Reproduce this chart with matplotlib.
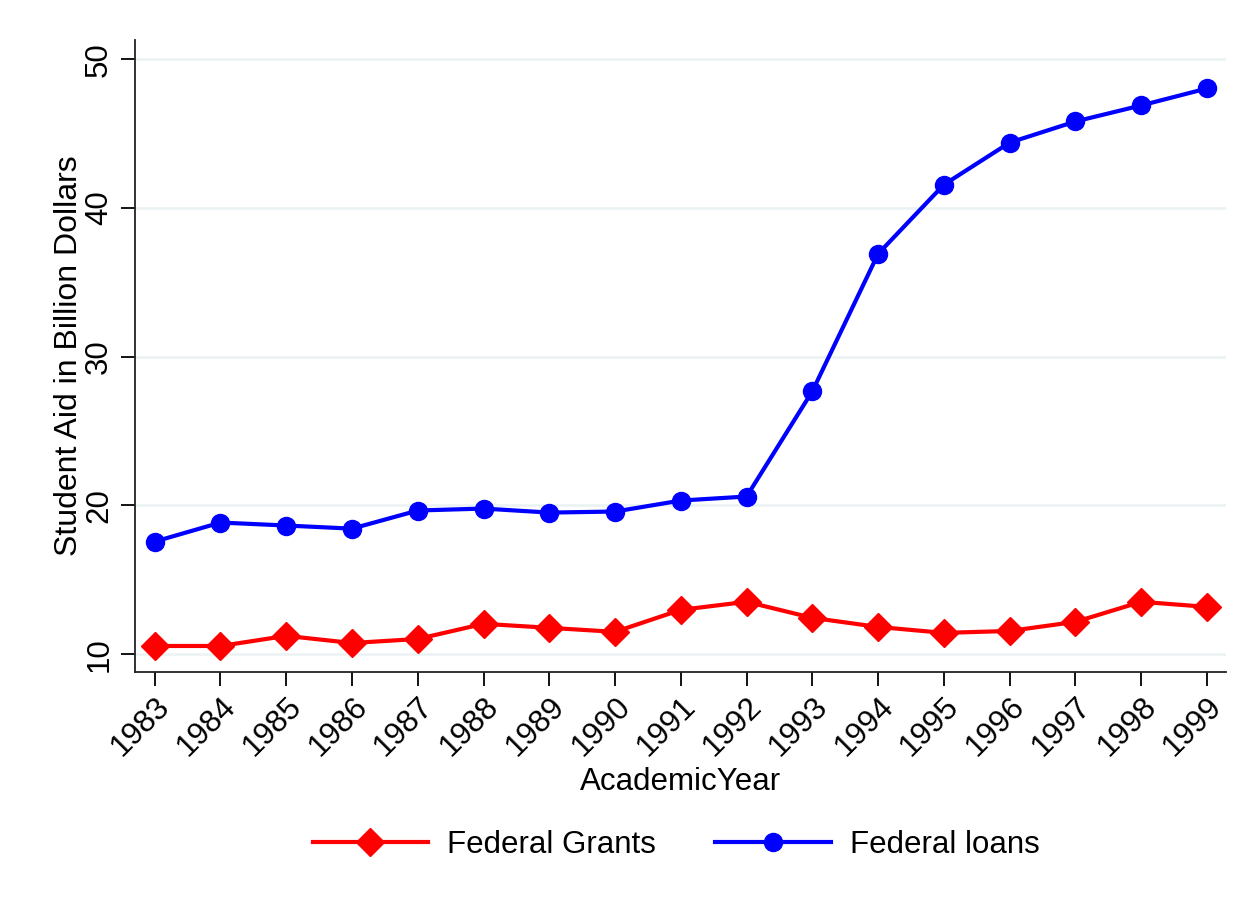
import matplotlib
matplotlib.use("Agg")
import matplotlib.pyplot as plt

years = list(range(1983, 2000))
grants = [10.55, 10.55, 11.23, 10.75, 11.02, 12.04, 11.77, 11.50, 12.98, 13.52,
          12.44, 11.83, 11.43, 11.56, 12.17, 13.52, 13.18]
loans = [17.57, 18.85, 18.65, 18.44, 19.66, 19.79, 19.52, 19.59, 20.33, 20.60,
         27.68, 36.92, 41.57, 44.40, 45.82, 46.90, 48.04]
yticks = [10, 20, 30, 40, 50]

plt.rcParams['font.family'] = ['Liberation Sans', 'DejaVu Sans']

fig = plt.figure(figsize=(12.54, 9.08), dpi=100)
ax = fig.add_axes([135/1254, 1 - 672/908, (1226-135)/1254, (672-40)/908])

for v in yticks:
    ax.axhline(v, color='#eaf2f3', lw=1.8, zorder=0)

ax.plot(years, grants, color='#ff0000', lw=3.0, marker='D', markersize=14,
        label='Federal Grants', zorder=3)
ax.plot(years, loans, color='#0000ff', lw=3.0, marker='o', markersize=13,
        label='Federal loans', zorder=3)

ax.set_xlim(1982.7, 1999.29)
ax.set_ylim(8.8, 51.3)
ax.set_xticks(years)
ax.set_xticklabels([str(y) for y in years], rotation=45, ha='right',
                   rotation_mode='anchor', fontsize=22.5)
ax.set_yticks(yticks)
ax.set_yticklabels([str(v) for v in yticks], rotation=90, va='center', fontsize=22.5)
ax.tick_params(axis='y', length=10, width=1.3, pad=5)
ax.tick_params(axis='x', length=10, width=1.3, pad=4)
for s in ['top', 'right']:
    ax.spines[s].set_visible(False)
for s in ['left', 'bottom']:
    ax.spines[s].set_linewidth(1.3)
    ax.spines[s].set_color('#222222')

ax.set_xlabel('AcademicYear', fontsize=22.5, labelpad=4)
ax.set_ylabel('Student Aid in Billion Dollars', fontsize=23, labelpad=0)

fig.legend(loc='center', bbox_to_anchor=(0.539, 1 - 845/908), ncol=2,
           frameon=False, fontsize=22.5, handlelength=3.7, columnspacing=1.9,
           handletextpad=0.6)

fig.savefig('out.png', dpi=100, facecolor='white')
